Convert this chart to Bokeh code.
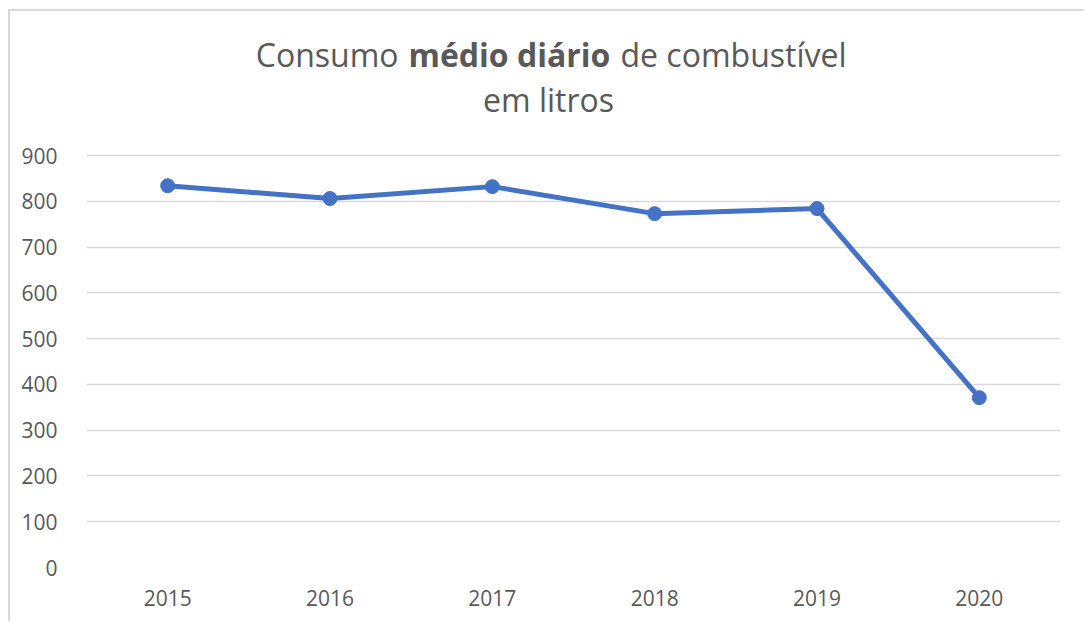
from bokeh.plotting import figure
from bokeh.models import ColumnDataSource, FixedTicker, Label, FactorRange, Range1d
from bokeh.embed import file_html
from bokeh.resources import INLINE

years = ["2015", "2016", "2017", "2018", "2019", "2020"]
consumo = [834, 806, 832, 773, 784, 371]
y_ticks = [0, 100, 200, 300, 400, 500, 600, 700, 800, 900]

FONT = "Open Sans"
GREY = "#595959"
BLUE = "#4472C4"

# page-pixel targets
page_canvas_left, page_canvas_top = 10.0, 11.0
frame_left, frame_right, frame_top_900, frame_bottom = 86.0, 1060.0, 155.0, 567.0
px_per_unit = (frame_bottom - frame_top_900) / 900.0
y_end = 900 + (frame_top_900 - page_canvas_top) / px_per_unit

W, H = 1076, 612
p = figure(
    x_range=FactorRange(*years, range_padding=0),
    y_range=Range1d(0, y_end),
    width=W, height=H,
    output_backend="svg", toolbar_location=None,
    min_border_left=int(frame_left - page_canvas_left),
    min_border_right=int(page_canvas_left + W - frame_right),
    min_border_top=0,
    min_border_bottom=int(page_canvas_top + H - frame_bottom),
)
p.styles = {"margin-top": "9px", "margin-left": "8px",
            "border-top": "2px solid #d9d9d9", "border-left": "2px solid #d9d9d9"}
p.outline_line_color = None
p.background_fill_color = "white"
p.border_fill_color = "white"

src = ColumnDataSource(dict(x=years, y=consumo))
p.line("x", "y", source=src, line_color=BLUE, line_width=5)
p.scatter("x", "y", source=src, size=14, fill_color=BLUE, line_color=BLUE)

p.xgrid.grid_line_color = None
p.ygrid.grid_line_color = "#d9d9d9"
p.ygrid.grid_line_width = 1.5

p.yaxis.ticker = FixedTicker(ticks=y_ticks)
for ax in (p.xaxis[0], p.yaxis[0]):
    ax.axis_line_color = None
    ax.major_tick_line_color = None
    ax.minor_tick_line_color = None
    ax.major_label_text_font = FONT
    ax.major_label_text_font_size = "21px"
    ax.major_label_text_color = GREY
p.yaxis.major_label_standoff = 23
p.xaxis.major_label_standoff = 16

def dx(px):
    return (px - frame_left) / ((frame_right - frame_left) / len(years))
def dy(py):
    return (frame_bottom - py) / px_per_unit

tkw = dict(text_font=FONT, text_font_size="32px", text_color=GREY, text_baseline="alphabetic")
p.add_layout(Label(x=dx(398), y=dy(54), text="Consumo", text_align="right", **tkw))
p.add_layout(Label(x=dx(408), y=dy(54), text="médio diário", text_align="left", text_font_style="bold", **tkw))
p.add_layout(Label(x=dx(620), y=dy(54), text="de combustível", text_align="left", **tkw))
p.add_layout(Label(x=dx(548), y=dy(99), text="em litros", text_align="center", **tkw))

open("out.html", "w").write(file_html(p, INLINE))
